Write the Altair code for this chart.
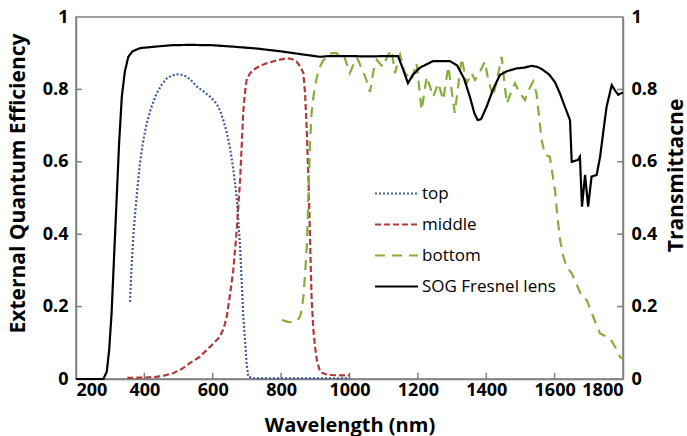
import altair as alt
import pandas as pd

# ---- data ----
sog_wl = [200, 280, 290, 297, 304, 311, 319, 326, 334, 343, 353, 365, 387, 430, 480, 533, 600, 660,
          728, 800, 860, 914, 940, 1000, 1060, 1100, 1142, 1155, 1171, 1185, 1206, 1244, 1294, 1315,
          1335, 1352, 1365, 1375, 1385, 1401, 1420, 1440, 1460, 1489, 1510, 1533, 1550, 1566, 1585,
          1601, 1615, 1630, 1645, 1650, 1668, 1674, 1680, 1689, 1698, 1708, 1723, 1733, 1742, 1752,
          1767, 1776, 1786, 1796, 1800]
sog_t = [0, 0, 0.02, 0.08, 0.18, 0.33, 0.50, 0.65, 0.78, 0.85, 0.89, 0.905, 0.914, 0.918, 0.922, 0.923,
         0.922, 0.918, 0.913, 0.905, 0.897, 0.89, 0.892, 0.892, 0.891, 0.892, 0.892, 0.86, 0.817, 0.84,
         0.86, 0.878, 0.878, 0.866, 0.83, 0.78, 0.735, 0.715, 0.718, 0.752, 0.80, 0.84, 0.85, 0.858,
         0.86, 0.865, 0.862, 0.854, 0.84, 0.82, 0.79, 0.752, 0.715, 0.60, 0.605, 0.614, 0.476, 0.564,
         0.476, 0.559, 0.564, 0.614, 0.68, 0.752, 0.812, 0.798, 0.785, 0.79, 0.79]

top_wl = [358, 363, 368, 373, 380, 387, 397, 407, 420, 436, 450, 465, 480, 494, 510, 524, 540, 553,
          572, 592, 611, 622, 631, 641, 650, 660, 670, 680, 689, 699, 704, 720, 800, 900, 1000]
top_eqe = [0.213, 0.32, 0.40, 0.458, 0.53, 0.596, 0.66, 0.707, 0.75, 0.789, 0.812, 0.83, 0.838, 0.842,
           0.84, 0.835, 0.822, 0.808, 0.795, 0.78, 0.761, 0.74, 0.715, 0.68, 0.642, 0.58, 0.503, 0.365,
           0.18, 0.044, 0.006, 0.002, 0.002, 0.002, 0.002]

mid_wl = [350, 400, 436, 460, 484, 510, 533, 560, 582, 602, 621, 632, 641, 650, 660, 670, 680, 685,
          689, 694, 699, 708, 718, 737, 757, 787, 816, 832, 845, 857, 865, 870, 875, 880, 884, 889,
          894, 899, 905, 914, 930, 943, 970, 1000]
mid_eqe = [0.003, 0.004, 0.006, 0.01, 0.016, 0.028, 0.044, 0.06, 0.08, 0.098, 0.117, 0.14, 0.172, 0.23,
           0.30, 0.41, 0.55, 0.65, 0.735, 0.79, 0.826, 0.843, 0.854, 0.864, 0.872, 0.88, 0.886, 0.884,
           0.877, 0.862, 0.845, 0.79, 0.688, 0.55, 0.41, 0.227, 0.14, 0.09, 0.05, 0.02, 0.013, 0.011,
           0.01, 0.01]

bot_wl = [802, 820, 836, 848, 855, 860, 865, 870, 875, 880, 884, 889, 894, 899, 906, 914, 923, 933,
          948, 962, 975, 985, 992, 1001, 1012, 1022, 1035, 1048, 1060, 1070, 1080, 1090, 1098, 1110,
          1123, 1133, 1148, 1162, 1182, 1196, 1211, 1226, 1245, 1260, 1274, 1289, 1308, 1328, 1343,
          1357, 1367, 1382, 1396, 1406, 1420, 1432, 1445, 1460, 1472, 1484, 1498, 1513, 1525, 1537,
          1547, 1555, 1562, 1572, 1586, 1601, 1608, 1616, 1625, 1635, 1650, 1665, 1680, 1694, 1705,
          1713, 1722, 1733, 1745, 1757, 1767, 1776, 1785, 1791, 1800]
bot_eqe = [0.163, 0.158, 0.156, 0.162, 0.172, 0.19, 0.227, 0.29, 0.365, 0.503, 0.642, 0.735, 0.775,
           0.808, 0.84, 0.863, 0.88, 0.89, 0.9, 0.90, 0.885, 0.89, 0.87, 0.845, 0.87, 0.887, 0.86, 0.83,
           0.793, 0.85, 0.881, 0.87, 0.862, 0.89, 0.909, 0.845, 0.895, 0.845, 0.826, 0.873, 0.743,
           0.835, 0.78, 0.817, 0.771, 0.863, 0.735, 0.886, 0.817, 0.845, 0.826, 0.85, 0.877, 0.826,
           0.78, 0.83, 0.89, 0.761, 0.79, 0.817, 0.79, 0.771, 0.80, 0.822, 0.789, 0.72, 0.66, 0.619,
           0.614, 0.522, 0.45, 0.384, 0.34, 0.31, 0.292, 0.26, 0.227, 0.218, 0.19, 0.172, 0.15, 0.126,
           0.12, 0.117, 0.105, 0.09, 0.075, 0.062, 0.055]

series_names = ["top", "middle", "bottom", "SOG Fresnel lens"]
series_colors = ["#3D5C9A", "#B03A3A", "#86AE3A", "#000000"]
series_dashes = [[2, 2], [6, 3], [10, 7], [1, 0]]

x_ticks = [400, 600, 800, 1000, 1200, 1400, 1600]
y_ticks = [0.2, 0.4, 0.6, 0.8]
y_labels = [0, 0.2, 0.4, 0.6, 0.8, 1]
x_labels = [200, 400, 600, 800, 1000, 1200, 1400, 1600, 1800]

# ---- tables ----
eqe_df = pd.concat([
    pd.DataFrame({"wl": top_wl, "val": top_eqe, "series": "top"}),
    pd.DataFrame({"wl": mid_wl, "val": mid_eqe, "series": "middle"}),
    pd.DataFrame({"wl": bot_wl, "val": bot_eqe, "series": "bottom"}),
])
sog_df = pd.DataFrame({"wl": sog_wl, "val": sog_t, "series": "SOG Fresnel lens"})

FONT = "Open Sans"
GRAY = "#7f7f7f"

xscale = alt.Scale(domain=[200, 1800], nice=False, zero=False)
yscale = alt.Scale(domain=[0, 1], nice=False)

x_enc = alt.X("wl:Q", scale=xscale,
              axis=alt.Axis(values=x_labels, format="d", title="Wavelength (nm)", tickSize=0,
                            labelFontWeight="bold", labelFontSize=18, labelPadding=2,
                            titleFontSize=20, titleY=46, titleBaseline="middle", grid=False,
                            domainColor=GRAY, domainWidth=1.5, labelColor="black",
                            titleColor="black", labelFont=FONT, titleFont=FONT))

legend_kw = dict(title=None, orient="none", legendX=298, legendY=154,
                 symbolType="stroke", symbolSize=1849, symbolStrokeWidth=2,
                 labelFontSize=17, labelFont=FONT, labelColor="black",
                 rowPadding=0, labelOffset=3)
color_enc = alt.Color("series:N", scale=alt.Scale(domain=series_names, range=series_colors),
                      legend=alt.Legend(**legend_kw))
dash_enc = alt.StrokeDash("series:N", scale=alt.Scale(domain=series_names, range=series_dashes),
                          legend=alt.Legend(**legend_kw))

eqe = alt.Chart(eqe_df).mark_line(strokeWidth=2.2).encode(
    x=x_enc,
    y=alt.Y("val:Q", scale=yscale,
            axis=alt.Axis(orient="left", values=y_labels, format="~g",
                          title="External Quantum Efficiency", tickSize=0, grid=False,
                          labelFontWeight="bold", labelFontSize=18, labelPadding=8,
                          titleFontSize=21, titleX=-58, titleY=166, titleBaseline="middle",
                          domainColor=GRAY, domainWidth=1.5,
                          labelColor="black", titleColor="black", labelFont=FONT, titleFont=FONT)),
    color=color_enc,
    strokeDash=dash_enc,
    detail="series:N",
)

sog = alt.Chart(sog_df).mark_line(strokeWidth=2.2).encode(
    x=alt.X("wl:Q", scale=xscale),
    y=alt.Y("val:Q", scale=yscale,
            axis=alt.Axis(orient="right", values=y_labels, format="~g",
                          title="Transmittacne", titleAngle=270, tickSize=0, grid=False,
                          labelFontWeight="bold", labelFontSize=18, labelPadding=8,
                          titleFontSize=21, titleX=53, titleY=158, titleBaseline="middle",
                          domainColor=GRAY, domainWidth=1.5,
                          labelColor="black", titleColor="black", labelFont=FONT, titleFont=FONT)),
    color=color_enc,
    strokeDash=dash_enc,
)

# inward tick marks (data-driven)
xt_df = pd.DataFrame({"x": x_ticks, "y0": 0.0, "y1": 0.017})
lt_df = pd.DataFrame({"y": y_ticks, "x0": 200.0, "x1": 217.0})
rt_df = pd.DataFrame({"y": y_ticks, "x0": 1783.0, "x1": 1800.0})

xt = alt.Chart(xt_df).mark_rule(color=GRAY, strokeWidth=1.5).encode(
    x=alt.X("x:Q", scale=xscale), y=alt.Y("y0:Q", scale=yscale, axis=None), y2="y1:Q")
lt = alt.Chart(lt_df).mark_rule(color=GRAY, strokeWidth=1.5).encode(
    x=alt.X("x0:Q", scale=xscale), x2="x1:Q", y=alt.Y("y:Q", scale=yscale, axis=None))
rt = alt.Chart(rt_df).mark_rule(color=GRAY, strokeWidth=1.5).encode(
    x=alt.X("x0:Q", scale=xscale), x2="x1:Q", y=alt.Y("y:Q", scale=yscale, axis=None))

chart = alt.layer(xt, lt, rt, eqe, sog).resolve_scale(y="independent").properties(
    width=547, height=362,
    autosize=alt.AutoSizeParams(type="none"),
    padding={"left": 76, "top": 17, "right": 64, "bottom": 57},
    background="white",
).configure_view(stroke=GRAY, strokeWidth=1.5)

chart.save("out.html", embed_options={"renderer": "svg", "actions": False})
